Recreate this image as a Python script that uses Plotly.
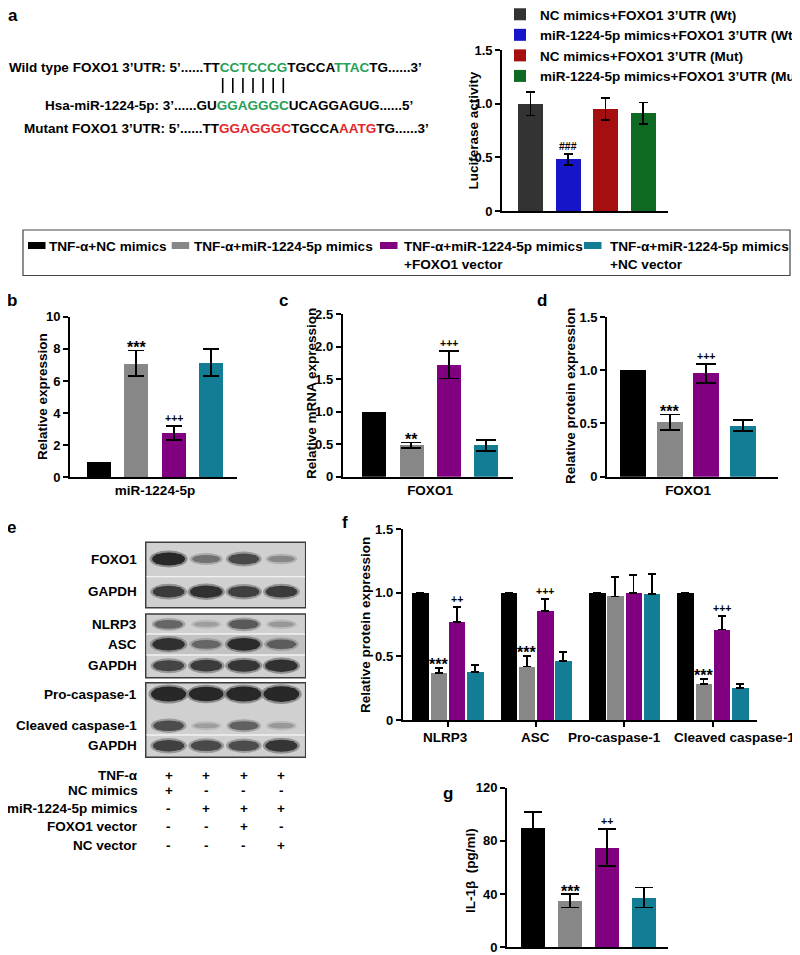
import plotly.graph_objects as go

# page body has an 8px margin: the figure is drawn 8px in from the window edge
PAGE_W, PAGE_H, OFF = 800, 955, 8
FW, FH = PAGE_W - OFF, PAGE_H - OFF
FONT = "Liberation Sans, Arial, Helvetica, sans-serif"

# ---------------- data ----------------
seq_wild = ("Wild type FOXO1 3\u2019UTR: 5\u2019......TT<span style='color:#25a057'>CCTCCCG</span>"
            "TGCCA<span style='color:#25a057'>TTAC</span>TG......3\u2019")
seq_mir = ("Hsa-miR-1224-5p: 3\u2019......GU<span style='color:#25a057'>GGAGGGC</span>UCAGGAGUG......5\u2019")
seq_mut = ("Mutant FOXO1 3\u2019UTR: 5\u2019......TT<span style='color:#e3262b'>GGAGGGC</span>"
           "TGCCA<span style='color:#e3262b'>AATG</span>TG......3\u2019")

luc_names = ["NC mimics+FOXO1 3\u2019UTR (Wt)", "miR-1224-5p mimics+FOXO1 3\u2019UTR (Wt)",
             "NC mimics+FOXO1 3\u2019UTR (Mut)", "miR-1224-5p mimics+FOXO1 3\u2019UTR (Mut)"]
luc_colors = ["#333333", "#1616c8", "#a50f0f", "#0e6a22"]
luc_values = [1.00, 0.48, 0.95, 0.91]
luc_errors = [0.11, 0.05, 0.10, 0.10]
luc_marks = ["", "###", "", ""]
luc_ticks = [0, 0.5, 1.0, 1.5]
luc_ticktext = ["0", "0.5", "1.0", "1.5"]

group_names = ["TNF-\u03b1+NC mimics", "TNF-\u03b1+miR-1224-5p mimics",
               "TNF-\u03b1+miR-1224-5p mimics<br>+FOXO1 vector",
               "TNF-\u03b1+miR-1224-5p mimics<br>+NC vector"]
group_colors = ["#000000", "#878787", "#800080", "#137d96"]

mir_label = "miR-1224-5p"
mir_values = [1.0, 7.10, 2.75, 7.15]
mir_errors = [0.0, 0.80, 0.42, 0.85]
mir_marks = ["", "***", "+++", ""]
mir_ticks = [0, 2, 4, 6, 8, 10]
mir_ticktext = ["0", "2", "4", "6", "8", "10"]

mrna_label = "FOXO1"
mrna_values = [1.0, 0.48, 1.72, 0.48]
mrna_errors = [0.0, 0.045, 0.21, 0.08]
mrna_marks = ["", "**", "+++", ""]
mrna_ticks = [0, 0.5, 1.0, 1.5, 2.0, 2.5]
mrna_ticktext = ["0", "0.5", "1.0", "1.5", "2.0", "2.5"]

prot_label = "FOXO1"
prot_values = [1.0, 0.51, 0.97, 0.48]
prot_errors = [0.0, 0.075, 0.09, 0.05]
prot_marks = ["", "***", "+++", ""]
prot_ticks = [0, 0.5, 1.0, 1.5]
prot_ticktext = ["0", "0.5", "1.0", "1.5"]

inflam_proteins = ["NLRP3", "ASC", "Pro-caspase-1", "Cleaved caspase-1"]
inflam_nc = [1.0, 1.0, 1.0, 1.0]
inflam_mir = [0.37, 0.42, 0.97, 0.285]
inflam_foxo = [0.77, 0.855, 1.0, 0.71]
inflam_ncv = [0.375, 0.465, 0.99, 0.25]
inflam_err_nc = [0.0, 0.0, 0.0, 0.0]
inflam_err_mir = [0.04, 0.085, 0.15, 0.04]
inflam_err_foxo = [0.115, 0.095, 0.14, 0.105]
inflam_err_ncv = [0.055, 0.07, 0.155, 0.035]
inflam_marks_nc = ["", "", "", ""]
inflam_marks_mir = ["***", "***", "", "***"]
inflam_marks_foxo = ["++", "+++", "", "+++"]
inflam_marks_ncv = ["", "", "", ""]
inflam_ticks = [0, 0.5, 1.0, 1.5]
inflam_ticktext = ["0", "0.5", "1.0", "1.5"]

il1b_values = [90, 35, 75, 37.5]
il1b_errors = [12, 5, 14, 7.5]
il1b_marks = ["", "***", "++", ""]
il1b_ticks = [0, 40, 80, 120]
il1b_ticktext = ["0", "40", "80", "120"]

blot_rows = ["FOXO1", "GAPDH", "NLRP3", "ASC", "GAPDH", "Pro-caspase-1", "Cleaved caspase-1", "GAPDH"]
blot_strength = [
    [1.00, 0.55, 0.80, 0.42],
    [0.88, 0.95, 0.85, 0.88],
    [0.62, 0.28, 0.70, 0.32],
    [0.95, 0.62, 0.98, 0.68],
    [0.82, 0.88, 0.92, 0.95],
    [1.20, 1.15, 1.20, 1.25],
    [0.78, 0.28, 0.65, 0.32],
    [0.85, 0.80, 0.78, 0.92],
]
treat_rows = ["TNF-\u03b1", "NC mimics", "miR-1224-5p mimics", "FOXO1 vector", "NC vector"]
treat_signs = [
    ["+", "+", "+", "+"],
    ["+", "-", "-", "-"],
    ["-", "+", "+", "+"],
    ["-", "-", "+", "-"],
    ["-", "-", "-", "+"],
]

# ---------------- layout helpers (page pixels) ----------------
BOLD = dict(family=FONT, color="black", weight="bold")


def fx(x):
    return (x - OFF) / FW


def fy(y):
    return 1 - (y - OFF) / FH


def mark_style(m):
    # asterisks sit high in the glyph box and are drawn larger than + and #
    if "*" in m:
        return 16, -7.5
    return 10.5, 0


fig = go.Figure()
annotations = []
shapes = []


def axis_pair(n, left, right, top, bottom, xrange, ymax, tickvals, ticktext, xcats, xticks=False,
              showxlabels=True):
    sfx = "" if n == 1 else str(n)
    fig.update_layout(**{
        "xaxis" + sfx: dict(domain=[fx(left), fx(right)], range=xrange, type="category",
                            categoryorder="array", categoryarray=xcats,
                            showline=True, linecolor="black", linewidth=1.8, showgrid=False,
                            zeroline=False, ticks="outside" if xticks else "", ticklen=5,
                            tickwidth=1.6, tickcolor="black", showticklabels=showxlabels,
                            tickangle=0, tickfont=dict(size=13.5, **BOLD), anchor="y" + sfx,
                            fixedrange=True),
        "yaxis" + sfx: dict(domain=[fy(bottom), fy(top)], range=[0, ymax], showline=True,
                            linecolor="black", linewidth=1.8, showgrid=False, zeroline=False,
                            ticks="outside", ticklen=5, tickwidth=1.6, tickcolor="black",
                            tickvals=tickvals, ticktext=ticktext,
                            tickfont=dict(size=13, **BOLD), anchor="x" + sfx, fixedrange=True),
    })


def single_panel(n, geom, cat, values, errors, marks, colors, names, ymax, tickvals, ticktext,
                 capw, legend=None, showlabels=True):
    left, right, top, bottom, center, pitch, bw = geom
    sfx = "" if n == 1 else str(n)
    axis_pair(n, left, right, top, bottom, [left - center, right - center], ymax, tickvals,
              ticktext, [cat], showxlabels=showlabels)
    for i in range(len(values)):
        pos = (i - (len(values) - 1) / 2) * pitch
        fig.add_trace(go.Bar(
            x=[cat], y=[values[i]], xaxis="x" + sfx, yaxis="y" + sfx,
            width=[bw], offset=[pos - bw / 2], marker=dict(color=colors[i], line=dict(width=0)),
            error_y=dict(type="data", array=[errors[i]], visible=errors[i] > 0, color="black",
                         thickness=1.8, width=capw),
            name=names[i], showlegend=legend is not None,
            legend=legend if legend else "legend", hoverinfo="skip"))
        if marks[i]:
            size, shift = mark_style(marks[i])
            annotations.append(dict(x=pos, y=values[i] + errors[i], xref="x" + sfx, yref="y" + sfx,
                                    text=marks[i], showarrow=False, yanchor="bottom",
                                    yshift=shift, font=dict(size=size, **BOLD)))


# panel a -- luciferase
single_panel(1, (502, 668, 50, 211, 586.75, 37.5, 25), "Luciferase", luc_values, luc_errors,
             luc_marks, luc_colors, luc_names, 1.5, luc_ticks, luc_ticktext, 4.5,
             legend="legend", showlabels=False)
# panel b
single_panel(2, (70, 237, 316.7, 477.3, 155, 37.3, 24), mir_label, mir_values, mir_errors,
             mir_marks, group_colors, group_names, 10, mir_ticks, mir_ticktext, 8)
# panel c
single_panel(3, (342.7, 513, 314, 476.7, 430, 37.3, 24), mrna_label, mrna_values, mrna_errors,
             mrna_marks, group_colors, group_names, 2.5, mrna_ticks, mrna_ticktext, 10)
# panel d
single_panel(4, (607, 778, 317, 476.7, 688, 36.7, 26), prot_label, prot_values, prot_errors,
             prot_marks, group_colors, group_names, 1.5, prot_ticks, prot_ticktext, 10)
# panel g
single_panel(7, (507, 668, 787.7, 947.3, 588.5, 37, 24), "IL-1b", il1b_values, il1b_errors,
             il1b_marks, group_colors, group_names, 120, il1b_ticks, il1b_ticktext, 9,
             showlabels=False)

# panel f -- grouped bars
F_LEFT, F_RIGHT, F_TOP, F_BOTTOM, F_C0, F_GP, F_BP, F_BW = 402.7, 757, 529, 720, 447.7, 88.33, 18.2, 16.5
F_LABEL_SHIFT = [-2, -1, -10, 22]   # the reference nudges the two long labels apart
axis_pair(6, F_LEFT, F_RIGHT, F_TOP, F_BOTTOM,
          [(F_LEFT - F_C0) / F_GP, (F_RIGHT - F_C0) / F_GP], 1.5, inflam_ticks, inflam_ticktext,
          inflam_proteins, xticks=True, showxlabels=False)
f_values = [inflam_nc, inflam_mir, inflam_foxo, inflam_ncv]
f_errors = [inflam_err_nc, inflam_err_mir, inflam_err_foxo, inflam_err_ncv]
f_marks = [inflam_marks_nc, inflam_marks_mir, inflam_marks_foxo, inflam_marks_ncv]
for i in range(4):
    pos = (i - 1.5) * F_BP / F_GP
    bw = F_BW / F_GP
    fig.add_trace(go.Bar(
        x=inflam_proteins, y=f_values[i], xaxis="x6", yaxis="y6", width=bw, offset=pos - bw / 2,
        marker=dict(color=group_colors[i], line=dict(width=0)),
        error_y=dict(type="data", symmetric=False, array=f_errors[i], arrayminus=[0] * 4,
                     color="black", thickness=1.8, width=4),
        name=group_names[i], showlegend=False, hoverinfo="skip"))
    for k, m in enumerate(f_marks[i]):
        if m:
            size, shift = mark_style(m)
            annotations.append(dict(x=k + pos, y=f_values[i][k] + f_errors[i][k], xref="x6",
                                    yref="y6", text=m, showarrow=False, yanchor="bottom",
                                    yshift=shift, font=dict(size=size, **BOLD)))
for k, label in enumerate(inflam_proteins):
    annotations.append(dict(x=k, y=fy(737), xref="x6", yref="paper", text=label, showarrow=False,
                            xanchor="center", yanchor="middle", xshift=F_LABEL_SHIFT[k],
                            font=dict(size=13.5, **BOLD)))

# panel e -- western blot (pixel-scaled hidden axis)
BX0, BX1, BY0, BY1 = 145, 306, 540, 760
fig.update_layout(
    xaxis5=dict(domain=[fx(BX0), fx(BX1)], range=[BX0, BX1], visible=False, fixedrange=True,
                anchor="y5"),
    yaxis5=dict(domain=[fy(BY1), fy(BY0)], range=[BY1, BY0], visible=False, fixedrange=True,
                anchor="x5"),
)
LANE_X0, LANE_PITCH = 168.6, 37.6
MEMBRANES = [(145.7, 305.7, 542.3, 607.7), (145.7, 305.7, 614, 677.7), (145.7, 305.7, 682.7, 757.3)]
STRIP_DARK = (634, 655)
SEPARATORS = [576.7, 634, 655, 735]
ROW_Y = [559, 591.7, 624.3, 644.3, 665.7, 694, 725.7, 745.7]
BG = 208

for (x0, x1, y0, y1) in MEMBRANES:
    shapes.append(dict(type="rect", xref="x5", yref="y5", x0=x0, x1=x1, y0=y0, y1=y1,
                       fillcolor="#d0d0d0", line=dict(color="#3c3c3c", width=1.5), layer="below"))
shapes.append(dict(type="rect", xref="x5", yref="y5", x0=146.5, x1=305, y0=STRIP_DARK[0],
                   y1=STRIP_DARK[1], fillcolor="#c2c2c2", line=dict(width=0), layer="below"))
for sy in SEPARATORS:
    shapes.append(dict(type="line", xref="x5", yref="y5", x0=146.5, x1=305, y0=sy, y1=sy,
                       line=dict(color="#f2f2f2", width=1.3)))

for r, row in enumerate(blot_strength):
    cy = ROW_Y[r]
    for i, s in enumerate(row):
        cx = LANE_X0 + i * LANE_PITCH
        w = 22 + 11 * s
        h = 2 + 11 * s
        g = int(205 - 165 * min(s, 1.0))
        halo = int((g + BG) / 2)
        shapes.append(dict(type="circle", xref="x5", yref="y5", x0=cx - w / 2 - 2.5,
                           x1=cx + w / 2 + 2.5, y0=cy - h / 2 - 2, y1=cy + h / 2 + 2,
                           fillcolor=f"rgb({halo},{halo},{halo})", line=dict(width=0), opacity=0.8))
        shapes.append(dict(type="circle", xref="x5", yref="y5", x0=cx - w / 2, x1=cx + w / 2,
                           y0=cy - h / 2, y1=cy + h / 2, fillcolor=f"rgb({g},{g},{g})",
                           line=dict(width=0)))
        shapes.append(dict(type="rect", xref="x5", yref="y5", x0=cx - 0.39 * w, x1=cx + 0.39 * w,
                           y0=cy - 0.36 * h, y1=cy + 0.36 * h, fillcolor=f"rgb({g},{g},{g})",
                           line=dict(width=0)))
    annotations.append(dict(x=fx(139), y=fy(cy), xref="paper", yref="paper", text=blot_rows[r],
                            showarrow=False, xanchor="right", yanchor="middle",
                            font=dict(size=13.5, **BOLD)))

TREAT_Y = [775, 790.7, 808.3, 826.7, 845]
for r, label in enumerate(treat_rows):
    annotations.append(dict(x=fx(140), y=fy(TREAT_Y[r]), xref="paper", yref="paper", text=label,
                            showarrow=False, xanchor="right", yanchor="middle",
                            font=dict(size=13.5, **BOLD)))
    for i, sgn in enumerate(treat_signs[r]):
        annotations.append(dict(x=LANE_X0 + i * LANE_PITCH, y=fy(TREAT_Y[r]), xref="x5",
                                yref="paper", text=sgn, showarrow=False, xanchor="center",
                                yanchor="middle", font=dict(size=13.5, **BOLD)))

# panel a sequence text
SEQ = [(seq_wild, 7, 68), (seq_mir, 43, 105), (seq_mut, 22, 128)]
for txt, x, y in SEQ:
    annotations.append(dict(x=fx(x), y=fy(y), xref="paper", yref="paper", text=txt,
                            showarrow=False, xanchor="left", yanchor="middle",
                            font=dict(size=13.5, **BOLD)))
for k in range(7):
    xk = 222.7 + k * 10.1
    shapes.append(dict(type="line", xref="paper", yref="paper", x0=fx(xk), x1=fx(xk),
                       y0=fy(78), y1=fy(93), line=dict(color="black", width=1.6)))

# panel letters
for letter, x, y in [("a", 13, 15), ("b", 12, 300), ("c", 283, 300), ("d", 542, 300),
                     ("e", 11, 527), ("f", 345, 522), ("g", 448, 793)]:
    annotations.append(dict(x=fx(x), y=fy(y), xref="paper", yref="paper", text=letter,
                            showarrow=False, xanchor="center", yanchor="middle",
                            font=dict(size=17, **BOLD)))

# y axis titles
for title, x, y in [("Luciferase activity", 473, 130.5), ("Relative expression", 42, 397),
                    ("Relative mRNA expression", 312, 394), ("Relative protein expression", 570, 396),
                    ("Relative protein expression", 365, 625), ("IL-1\u03b2  (pg/ml)", 470, 871)]:
    annotations.append(dict(x=fx(x), y=fy(y), xref="paper", yref="paper", text=title,
                            showarrow=False, textangle=-90, xanchor="center", yanchor="middle",
                            font=dict(size=13.5, **BOLD)))

# shared legend box for panels b-g
LEG_BOX = (23, 790, 230, 275.5)
LEG_SWATCH_X = [28, 171.7, 380, 584]
LEG_TEXT_X = [46.5, 191.5, 401.5, 608]
LEG_Y = 245.5
shapes.append(dict(type="rect", xref="paper", yref="paper", x0=fx(LEG_BOX[0]), x1=fx(LEG_BOX[1]),
                   y0=fy(LEG_BOX[2]), y1=fy(LEG_BOX[3]), line=dict(color="#444444", width=1.2)))
for i in range(4):
    shapes.append(dict(type="rect", xref="paper", yref="paper", x0=fx(LEG_SWATCH_X[i]),
                       x1=fx(LEG_SWATCH_X[i] + 17.5), y0=fy(LEG_Y - 3.5), y1=fy(LEG_Y + 3.5),
                       fillcolor=group_colors[i], line=dict(width=0)))
    annotations.append(dict(x=fx(LEG_TEXT_X[i]), y=fy(LEG_Y - 9), xref="paper", yref="paper",
                            text=group_names[i], showarrow=False, xanchor="left", yanchor="top",
                            align="left", font=dict(size=13.6, **BOLD)))

fig.update_layout(
    width=FW, height=FH, margin=dict(l=0, r=0, t=0, b=0, autoexpand=False),
    paper_bgcolor="white", plot_bgcolor="rgba(0,0,0,0)",
    font=dict(family=FONT, color="black", size=13, weight="bold"),
    barmode="overlay", bargap=0,
    showlegend=True,
    legend=dict(x=fx(500), y=fy(-1), xanchor="left", yanchor="top", orientation="v",
                font=dict(size=13.5, **BOLD), bgcolor="rgba(0,0,0,0)", tracegroupgap=0,
                itemclick=False, itemdoubleclick=False),
    annotations=annotations, shapes=shapes,
)

fig.write_html("out.html")
